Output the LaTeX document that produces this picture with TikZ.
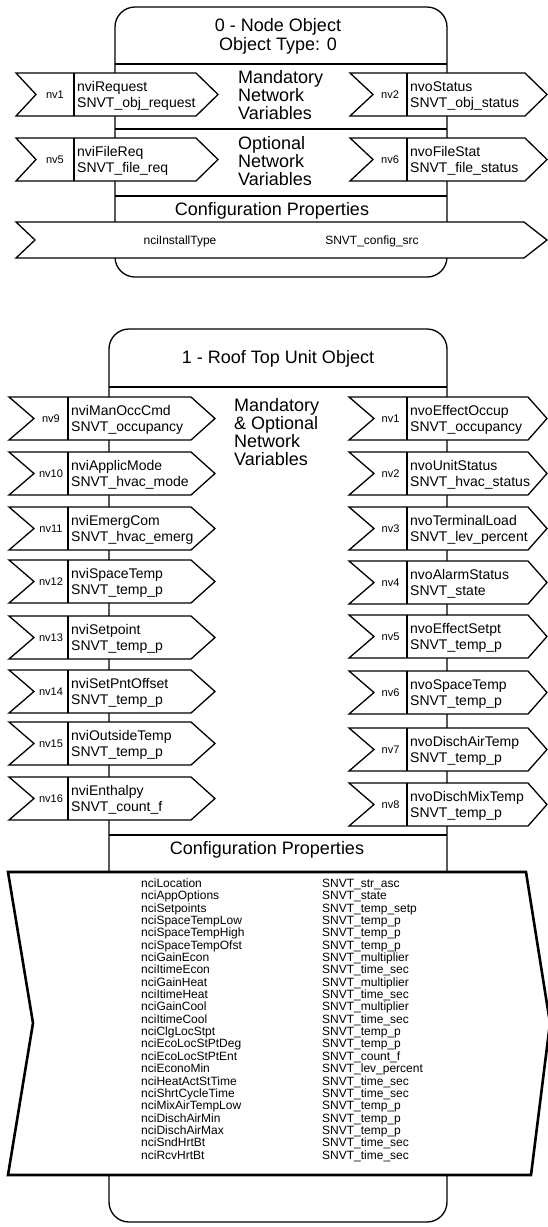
\documentclass[tikz,border=0pt]{standalone}
\usepackage{fontspec}
\setmainfont{Liberation Sans}
\tikzset{
  ln/.style={line width=1.3pt, line join=miter},
  arr/.style={ln, fill=white},
  bigarr/.style={line width=2.6pt, line join=miter, fill=white},
  titletext/.style={font=\fontsize{18}{19}\selectfont, inner sep=0pt, anchor=base},
  blocktext/.style={font=\fontsize{18}{19}\selectfont, inner sep=0pt, anchor=base west},
  vartext/.style={font=\fontsize{14}{15.5}\selectfont, inner sep=0pt, anchor=base west},
  nvtext/.style={font=\fontsize{11}{12}\selectfont, inner sep=0pt, anchor=base},
  listtext/.style={font=\fontsize{12}{12.4}\selectfont, inner sep=0pt, anchor=base west},
  cfgtext/.style={font=\fontsize{12}{12.4}\selectfont, inner sep=0pt, anchor=base},
}
% left, notch, sep, slant, tip, top, nv, name, type
\newcommand{\nvarr}[9]{%
  \pgfmathsetmacro\arrbot{#6+43}%
  \pgfmathsetmacro\arrmid{#6+21.5}%
  \draw[arr] (#1,#6) -- (#4,#6) -- (#5,\arrmid) -- (#4,\arrbot) -- (#1,\arrbot) -- (#2,\arrmid) -- cycle;
  \draw[ln] (#3,#6) -- (#3,\arrbot);
  \node[nvtext] (nvl-#7-#6) at ({(#2+#3)/2},\arrmid+3.8) {#7};
  \node[vartext] (nvn-#7-#6) at (#3+3,\arrmid-3) {#8};
  \node[vartext] (nvt-#7-#6) at (#3+3,\arrmid+12.5) {#9};
}
\newcommand{\TLA}[4]{\nvarr{16}{36}{74}{196}{218}{#1}{#2}{#3}{#4}}
\newcommand{\TRA}[4]{\nvarr{350}{373}{407}{525}{547}{#1}{#2}{#3}{#4}}
\newcommand{\BLA}[4]{\nvarr{9}{34}{68}{191}{215}{#1}{#2}{#3}{#4}}
\newcommand{\BRA}[4]{\nvarr{349}{374}{407}{528}{547}{#1}{#2}{#3}{#4}}
\begin{document}
\begin{tikzpicture}[x=1pt, y=-1pt]
\useasboundingbox (0,0) rectangle (548,1227);
\fill[white] (0,0) rectangle (548,1227);

% ---------- Object 0 ----------
\draw[ln, rounded corners=20pt] (115,7) rectangle (447,277);
\draw[ln] (115,64) -- (447,64);
\draw[ln] (115,129) -- (447,129);
\draw[ln] (115,196) -- (447,196);
\node[titletext] (t0a) at (278,31) {0 - Node Object};
\node[titletext] (t0b) at (278,50) {Object Type: 0};
\node[blocktext] (m0a) at (238,83) {Mandatory};
\node[blocktext] (m0b) at (238,101) {Network};
\node[blocktext] (m0c) at (238,119) {Variables};
\node[blocktext] (o0a) at (238,149) {Optional};
\node[blocktext] (o0b) at (238,167) {Network};
\node[blocktext] (o0c) at (238,185) {Variables};
\node[titletext] (c0) at (272,215) {Configuration Properties};
\TLA{73}{nv1}{nviRequest}{SNVT\_obj\_request}
\TRA{73}{nv2}{nvoStatus}{SNVT\_obj\_status}
\TLA{138}{nv5}{nviFileReq}{SNVT\_file\_req}
\TRA{138}{nv6}{nvoFileStat}{SNVT\_file\_status}
\draw[arr] (16,222) -- (524,222) -- (547,240) -- (524,258) -- (16,258) -- (35,240) -- cycle;
\node[cfgtext] (ci0) at (180,244) {nciInstallType};
\node[cfgtext] (cs0) at (372,244) {SNVT\_config\_src};

% ---------- Object 1 ----------
\draw[ln, rounded corners=20pt] (109,329) rectangle (447,1222);
\draw[ln] (109,387) -- (447,387);
\draw[ln] (109,835) -- (447,835);
\node[titletext] (t1) at (278,363) {1 - Roof Top Unit Object};
\node[blocktext] (m1a) at (234,411) {Mandatory};
\node[blocktext] (m1b) at (234,429) {\& Optional};
\node[blocktext] (m1c) at (234,447) {Network};
\node[blocktext] (m1d) at (234,465) {Variables};
\node[titletext] (c1) at (267,854) {Configuration Properties};

\BLA{397}{nv9}{nviManOccCmd}{SNVT\_occupancy}
\BLA{452}{nv10}{nviApplicMode}{SNVT\_hvac\_mode}
\BLA{507}{nv11}{nviEmergCom}{SNVT\_hvac\_emerg}
\BLA{560}{nv12}{nviSpaceTemp}{SNVT\_temp\_p}
\BLA{616}{nv13}{nviSetpoint}{SNVT\_temp\_p}
\BLA{670}{nv14}{nviSetPntOffset}{SNVT\_temp\_p}
\BLA{722}{nv15}{nviOutsideTemp}{SNVT\_temp\_p}
\BLA{777}{nv16}{nviEnthalpy}{SNVT\_count\_f}

\BRA{397}{nv1}{nvoEffectOccup}{SNVT\_occupancy}
\BRA{452}{nv2}{nvoUnitStatus}{SNVT\_hvac\_status}
\BRA{507}{nv3}{nvoTerminalLoad}{SNVT\_lev\_percent}
\BRA{561}{nv4}{nvoAlarmStatus}{SNVT\_state}
\BRA{615}{nv5}{nvoEffectSetpt}{SNVT\_temp\_p}
\BRA{671}{nv6}{nvoSpaceTemp}{SNVT\_temp\_p}
\BRA{728}{nv7}{nvoDischAirTemp}{SNVT\_temp\_p}
\BRA{783}{nv8}{nvoDischMixTemp}{SNVT\_temp\_p}

\draw[bigarr] (8,872) -- (526,872) -- (550,1023) -- (531,1175) -- (8,1175) -- (33,1023) -- cycle;
\foreach \a/\b [count=\i from 0] in {
  nciLocation/SNVT\_str\_asc,
  nciAppOptions/SNVT\_state,
  nciSetpoints/SNVT\_temp\_setp,
  nciSpaceTempLow/SNVT\_temp\_p,
  nciSpaceTempHigh/SNVT\_temp\_p,
  nciSpaceTempOfst/SNVT\_temp\_p,
  nciGainEcon/SNVT\_multiplier,
  nciItimeEcon/SNVT\_time\_sec,
  nciGainHeat/SNVT\_multiplier,
  nciItimeHeat/SNVT\_time\_sec,
  nciGainCool/SNVT\_multiplier,
  nciItimeCool/SNVT\_time\_sec,
  nciClgLocStpt/SNVT\_temp\_p,
  nciEcoLocStPtDeg/SNVT\_temp\_p,
  nciEcoLocStPtEnt/SNVT\_count\_f,
  nciEconoMin/SNVT\_lev\_percent,
  nciHeatActStTime/SNVT\_time\_sec,
  nciShrtCycleTime/SNVT\_time\_sec,
  nciMixAirTempLow/SNVT\_temp\_p,
  nciDischAirMin/SNVT\_temp\_p,
  nciDischAirMax/SNVT\_temp\_p,
  nciSndHrtBt/SNVT\_time\_sec,
  nciRcvHrtBt/SNVT\_time\_sec}{
  \node[listtext] (la\i) at (141,887.3+\i*12.36) {\a};
  \node[listtext] (lb\i) at (322,887.3+\i*12.36) {\b};
}
\end{tikzpicture}
\end{document}
